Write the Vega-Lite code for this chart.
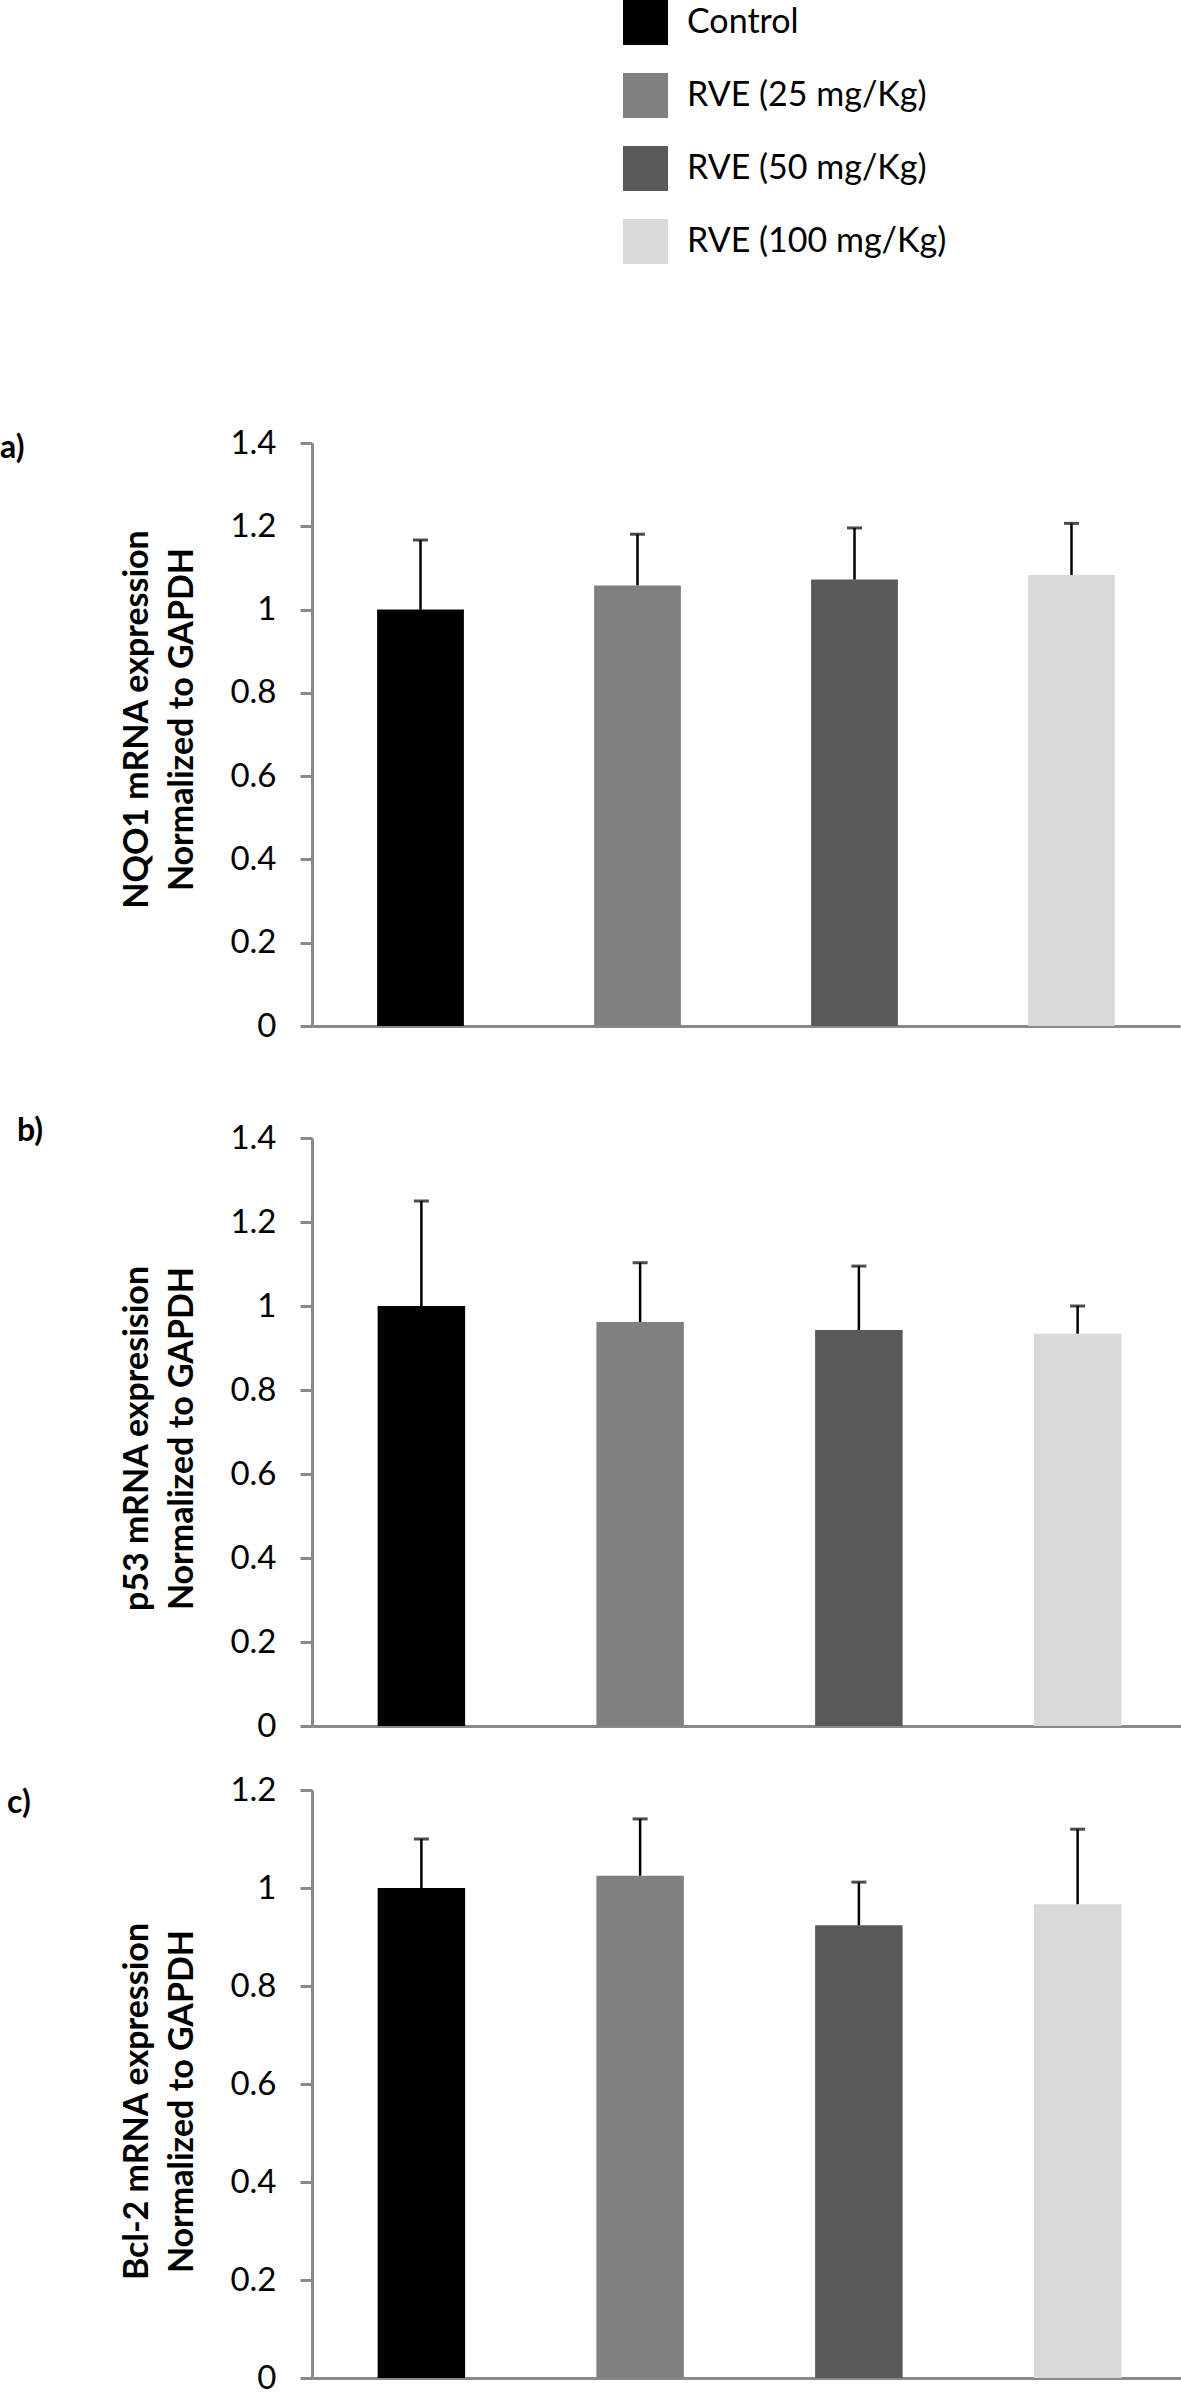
{
  "$schema": "https://vega.github.io/schema/vega-lite/v6.json",
  "padding": 0,
  "background": "white",
  "config": {
    "view": {"stroke": null},
    "font": "Lato",
    "axis": {"grid": false, "domainColor": "#898989", "domainWidth": 3, "tickColor": "#898989", "tickWidth": 3, "tickSize": 12, "labelFont": "Lato", "labelFontSize": 33, "labelColor": "#000000", "labelPadding": 24, "titleFont": "Lato", "titleFontSize": 34, "titleFontWeight": "bold", "titleColor": "#000000", "titleLineHeight": 45, "titlePadding": 30},
    "title": {"font": "Lato", "fontSize": 32, "fontWeight": "bold", "color": "#000000", "anchor": "start", "frame": "group", "offset": 0, "baseline": "middle"}
  },
  "concat": [
    {
      "width": 868, "height": 583,
      "title": {"text": "a)", "dx": -312, "dy": 42},
      "data": {"values": [
        {"group": "Control", "mean": 1.0, "upper": 1.167},
        {"group": "RVE (25 mg/Kg)", "mean": 1.058, "upper": 1.181},
        {"group": "RVE (50 mg/Kg)", "mean": 1.072, "upper": 1.196},
        {"group": "RVE (100 mg/Kg)", "mean": 1.083, "upper": 1.207}
      ]},
      "encoding": {
        "x": {"field": "group", "type": "nominal", "sort": ["Control", "RVE (25 mg/Kg)", "RVE (50 mg/Kg)", "RVE (100 mg/Kg)"], "scale": {"paddingInner": 0.6, "paddingOuter": 0.3}, "axis": {"labels": false, "ticks": false, "title": null}},
        "y": {"field": "mean", "type": "quantitative", "scale": {"domain": [0, 1.4], "nice": false}, "axis": {"values": [0, 0.2, 0.4, 0.6, 0.8, 1, 1.2, 1.4], "format": "~g", "titleY": 276, "title": ["NQO1 mRNA expression", "Normalized to GAPDH"]}}
      },
      "layer": [
        {"mark": {"type": "bar"}, "encoding": {
          "color": {"field": "group", "type": "nominal", "scale": {"domain": ["Control", "RVE (25 mg/Kg)", "RVE (50 mg/Kg)", "RVE (100 mg/Kg)"], "range": ["#000000", "#808080", "#595959", "#D9D9D9"]},
            "legend": {"orient": "none", "legendX": 311, "legendY": -443, "direction": "vertical", "title": null, "symbolType": "square", "symbolSize": 2025, "symbolStrokeWidth": 0, "labelFont": "Lato", "labelFontSize": 34, "labelColor": "#000000", "labelOffset": 19, "rowPadding": 28, "padding": 0, "labelLimit": 400}}
        }},
        {"mark": {"type": "rule", "color": "#000000", "strokeWidth": 2.5}, "encoding": {"y2": {"field": "upper"}}},
        {"mark": {"type": "tick", "color": "#000000", "thickness": 3, "size": 15}, "encoding": {"y": {"field": "upper", "type": "quantitative", "axis": {"values": [0, 0.2, 0.4, 0.6, 0.8, 1, 1.2, 1.4], "format": "~g", "titleY": 276, "title": ["NQO1 mRNA expression", "Normalized to GAPDH"]}}}}
      ]
    },
    {
      "concat": [
        {
          "width": 875, "height": 588,
          "title": {"text": "b)", "dx": -295, "dy": 30},
          "data": {"values": [
            {"group": "Control", "mean": 1.0, "upper": 1.25},
            {"group": "RVE (25 mg/Kg)", "mean": 0.962, "upper": 1.103},
            {"group": "RVE (50 mg/Kg)", "mean": 0.943, "upper": 1.095},
            {"group": "RVE (100 mg/Kg)", "mean": 0.934, "upper": 1.0}
          ]},
          "encoding": {
            "x": {"field": "group", "type": "nominal", "sort": ["Control", "RVE (25 mg/Kg)", "RVE (50 mg/Kg)", "RVE (100 mg/Kg)"], "scale": {"paddingInner": 0.6, "paddingOuter": 0.3}, "axis": {"labels": false, "ticks": false, "title": null}},
            "y": {"field": "mean", "type": "quantitative", "scale": {"domain": [0, 1.4], "nice": false}, "axis": {"values": [0, 0.2, 0.4, 0.6, 0.8, 1, 1.2, 1.4], "format": "~g", "titleY": 300, "title": ["p53 mRNA expresision", "Normalized to GAPDH"]}}
          },
          "layer": [
            {"mark": {"type": "bar"}, "encoding": {
              "color": {"field": "group", "type": "nominal", "scale": {"domain": ["Control", "RVE (25 mg/Kg)", "RVE (50 mg/Kg)", "RVE (100 mg/Kg)"], "range": ["#000000", "#808080", "#595959", "#D9D9D9"]},
                "legend": {"orient": "none", "legendX": 311, "legendY": -443, "direction": "vertical", "title": null, "symbolType": "square", "symbolSize": 2025, "symbolStrokeWidth": 0, "labelFont": "Lato", "labelFontSize": 34, "labelColor": "#000000", "labelOffset": 19, "rowPadding": 28, "padding": 0, "labelLimit": 400}}
            }},
            {"mark": {"type": "rule", "color": "#000000", "strokeWidth": 2.5}, "encoding": {"y2": {"field": "upper"}}},
            {"mark": {"type": "tick", "color": "#000000", "thickness": 3, "size": 15}, "encoding": {"y": {"field": "upper", "type": "quantitative", "axis": {"values": [0, 0.2, 0.4, 0.6, 0.8, 1, 1.2, 1.4], "format": "~g", "titleY": 300, "title": ["p53 mRNA expresision", "Normalized to GAPDH"]}}}}
          ]
        },
        {
          "width": 875, "height": 588,
          "title": {"text": "c)", "dx": -305, "dy": 50},
          "data": {"values": [
            {"group": "Control", "mean": 1.0, "upper": 1.10},
            {"group": "RVE (25 mg/Kg)", "mean": 1.025, "upper": 1.141},
            {"group": "RVE (50 mg/Kg)", "mean": 0.924, "upper": 1.012},
            {"group": "RVE (100 mg/Kg)", "mean": 0.967, "upper": 1.12}
          ]},
          "encoding": {
            "x": {"field": "group", "type": "nominal", "sort": ["Control", "RVE (25 mg/Kg)", "RVE (50 mg/Kg)", "RVE (100 mg/Kg)"], "scale": {"paddingInner": 0.6, "paddingOuter": 0.3}, "axis": {"labels": false, "ticks": false, "title": null}},
            "y": {"field": "mean", "type": "quantitative", "scale": {"domain": [0, 1.2], "nice": false}, "axis": {"values": [0, 0.2, 0.4, 0.6, 0.8, 1, 1.2], "format": "~g", "titleY": 311, "title": ["Bcl-2 mRNA expression", "Normalized to GAPDH"]}}
          },
          "layer": [
            {"mark": {"type": "bar"}, "encoding": {
              "color": {"field": "group", "type": "nominal", "scale": {"domain": ["Control", "RVE (25 mg/Kg)", "RVE (50 mg/Kg)", "RVE (100 mg/Kg)"], "range": ["#000000", "#808080", "#595959", "#D9D9D9"]},
                "legend": {"orient": "none", "legendX": 311, "legendY": -443, "direction": "vertical", "title": null, "symbolType": "square", "symbolSize": 2025, "symbolStrokeWidth": 0, "labelFont": "Lato", "labelFontSize": 34, "labelColor": "#000000", "labelOffset": 19, "rowPadding": 28, "padding": 0, "labelLimit": 400}}
            }},
            {"mark": {"type": "rule", "color": "#000000", "strokeWidth": 2.5}, "encoding": {"y2": {"field": "upper"}}},
            {"mark": {"type": "tick", "color": "#000000", "thickness": 3, "size": 15}, "encoding": {"y": {"field": "upper", "type": "quantitative", "axis": {"values": [0, 0.2, 0.4, 0.6, 0.8, 1, 1.2], "format": "~g", "titleY": 311, "title": ["Bcl-2 mRNA expression", "Normalized to GAPDH"]}}}}
          ]
        }
      ],
      "columns": 1,
      "align": "all",
      "spacing": 31
    }
  ],
  "columns": 1,
  "align": "none",
  "spacing": 72
}
